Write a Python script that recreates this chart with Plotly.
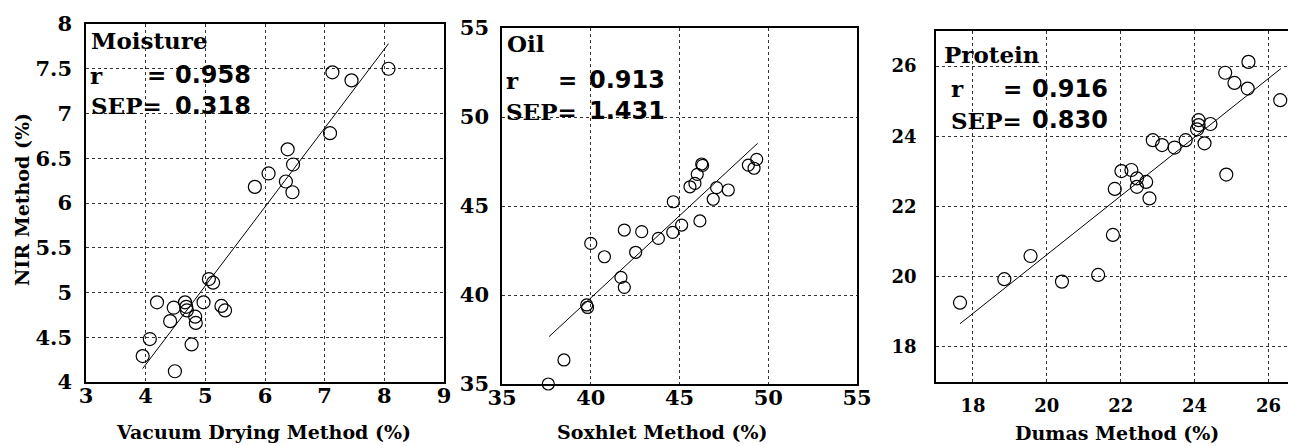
import plotly.graph_objects as go

# ---------------- data ----------------
moist_x = [8.07, 7.13, 7.45, 7.09, 6.38, 6.06, 5.83, 6.35, 6.47, 6.46,
           5.06, 5.13, 4.19, 4.47, 4.66, 4.68, 4.69, 4.97, 5.27, 5.33,
           4.41, 4.83, 4.84, 4.07, 3.95, 4.77, 4.49]
moist_y = [7.50, 7.46, 7.37, 6.78, 6.60, 6.33, 6.18, 6.24, 6.43, 6.12,
           5.15, 5.11, 4.89, 4.83, 4.89, 4.84, 4.80, 4.89, 4.85, 4.80,
           4.68, 4.73, 4.66, 4.48, 4.29, 4.42, 4.12]
moist_fit_x = [3.95, 8.07]
moist_fit_y = [4.15, 7.78]

oil_x = [37.61, 38.49, 39.77, 39.82, 40.00, 40.77, 41.70, 41.89, 41.89, 42.53,
         42.87, 43.81, 44.62, 44.65, 45.12, 45.59, 45.87, 46.00, 46.25, 46.30,
         46.15, 46.90, 47.09, 47.75, 48.88, 49.20, 49.35]
oil_y = [35.00, 36.35, 39.44, 39.30, 42.90, 42.15, 40.99, 40.43, 43.65, 42.40,
         43.56, 43.18, 43.52, 45.24, 43.93, 46.08, 46.27, 46.78, 47.36, 47.28,
         44.16, 45.38, 46.03, 45.90, 47.30, 47.12, 47.62]
oil_fit_x = [37.65, 49.40]
oil_fit_y = [37.66, 48.52]

prot_x = [17.65, 18.85, 19.56, 20.41, 21.39, 21.79, 21.84, 22.02, 22.29, 22.44,
          22.44, 22.69, 22.78, 22.87, 23.12, 23.46, 23.76, 24.11, 24.11, 24.07,
          24.43, 24.27, 24.86, 24.83, 25.08, 25.44, 25.46, 26.32]
prot_y = [19.26, 19.93, 20.59, 19.86, 20.05, 21.19, 22.50, 23.01, 23.04, 22.80,
          22.56, 22.70, 22.23, 23.89, 23.75, 23.68, 23.89, 24.46, 24.32, 24.20,
          24.35, 23.80, 22.91, 25.81, 25.52, 25.36, 26.12, 25.03]
prot_fit_x = [17.65, 26.34]
prot_fit_y = [18.66, 25.93]

moist_xticks = [3, 4, 5, 6, 7, 8, 9]
moist_yticks = [4, 4.5, 5, 5.5, 6, 6.5, 7, 7.5, 8]
moist_yticktext = ["4", "4.5", "5", "5.5", "6", "6.5", "7", "7.5", "8"]
oil_ticks = [35, 40, 45, 50, 55]
prot_ticks = [18, 20, 22, 24, 26]

panel_names = ["Moisture", "Oil", "Protein"]
r_values = ["0.958", "0.913", "0.916"]
sep_values = ["0.318", "1.431", "0.830"]
x_titles = ["Vacuum Drying Method (%)", "Soxhlet Method (%)", "Dumas Method (%)"]
y_title = "NIR Method (%)"

# ---------------- layout helpers ----------------
# the page body has an 8px margin, so the figure starts at (8, 8) in the window
OFF = 8
W, H = 1296 - OFF, 446 - OFF
def fx(p):
    return (p - OFF) / W
def fy(p):
    return 1 - (p - OFF) / H

SERIF = "DejaVu Serif"
SANS = "DejaVu Sans"

def bold(labels):
    return ["<b>" + str(v) + "</b>" for v in labels]

fig = go.Figure()

def add_panel(i, xs, ys, fxs, fys, msize):
    xa = "x" if i == 1 else f"x{i}"
    ya = "y" if i == 1 else f"y{i}"
    fig.add_trace(go.Scatter(x=xs, y=ys, mode="markers", xaxis=xa, yaxis=ya,
                             cliponaxis=False, showlegend=False,
                             marker=dict(symbol="circle-open", size=msize,
                                         color="black", line=dict(width=1.2, color="black"))))
    fig.add_trace(go.Scatter(x=fxs, y=fys, mode="lines", xaxis=xa, yaxis=ya,
                             showlegend=False, line=dict(color="black", width=1)))

add_panel(1, moist_x, moist_y, moist_fit_x, moist_fit_y, 13)
add_panel(2, oil_x, oil_y, oil_fit_x, oil_fit_y, 12)
add_panel(3, prot_x, prot_y, prot_fit_x, prot_fit_y, 13)

axis_common = dict(showline=True, mirror=True, linecolor="black", linewidth=1.5,
                   showgrid=True, gridcolor="#333333", griddash="dot", gridwidth=1,
                   zeroline=False, ticks="", automargin=False)

tf = dict(family=SERIF, size=21, color="black")
tf3 = dict(family=SERIF, size=18, color="black")

fig.update_layout(
    width=W, height=H,
    margin=dict(l=0, r=0, t=0, b=0, pad=0, autoexpand=False),
    paper_bgcolor="white", plot_bgcolor="white",
    xaxis=dict(axis_common, domain=[fx(86), fx(444)], range=[3, 9], anchor="y",
               tickvals=moist_xticks, ticktext=bold(moist_xticks),
               tickfont=tf, ticklabelstandoff=-6),
    yaxis=dict(axis_common, domain=[fy(382), fy(24)], range=[4, 8], anchor="x",
               tickvals=moist_yticks, ticktext=bold(moist_yticktext), tickfont=tf,
               ticklabelstandoff=8),
    xaxis2=dict(axis_common, domain=[fx(502), fx(857)], range=[35, 55], anchor="y2",
                tickvals=oil_ticks, ticktext=bold(oil_ticks), tickfont=tf,
                ticklabelstandoff=-6),
    yaxis2=dict(axis_common, domain=[fy(384), fy(28)], range=[35, 55], anchor="x2",
                tickvals=oil_ticks, ticktext=bold(oil_ticks), tickfont=tf,
                ticklabelstandoff=7),
    xaxis3=dict(axis_common, domain=[fx(936), fx(1295)], range=[17, 26.72], anchor="y3",
                tickvals=prot_ticks, ticktext=bold(prot_ticks), tickfont=tf3,
                ticklabelstandoff=7),
    yaxis3=dict(axis_common, domain=[fy(382), fy(31)], range=[17, 27], anchor="x3",
                tickvals=prot_ticks, ticktext=bold(prot_ticks), tickfont=tf3,
                ticklabelstandoff=14),
)

ann = []
def text(x, y, s, family, size, xanchor="left", angle=0):
    ann.append(dict(x=fx(x), y=fy(y), xref="paper", yref="paper", text=s,
                    showarrow=False, xanchor=xanchor, yanchor="middle", textangle=angle,
                    font=dict(family=family, size=size, color="black")))

# in-plot statistics text (pixel positions)
name_pos = [(89, 41), (505, 43), (942, 54)]
r_pos = [(88, 75), (504, 80), (949, 89)]
req_pos = [(145, 75), (556, 80), (1001, 89)]
sep_pos = [(89, 106), (504, 111), (949, 120)]
num_pos = [(173, 75, 106), (587, 80, 111), (1030, 89, 120)]
for k in range(3):
    text(name_pos[k][0], name_pos[k][1], "<b>" + panel_names[k] + "</b>", SERIF, 23)
    text(r_pos[k][0], r_pos[k][1], "<b>r</b>", SERIF, 23)
    text(req_pos[k][0], req_pos[k][1], "<b>=</b>", SANS, 23)
    text(sep_pos[k][0], sep_pos[k][1], "<b>SEP=</b>", SERIF, 23)
    text(num_pos[k][0], num_pos[k][1], "<b>" + r_values[k] + "</b>", SANS, 24)
    text(num_pos[k][0], num_pos[k][2], "<b>" + sep_values[k] + "</b>", SANS, 24)

# axis titles
title_pos = [(263, 432), (662, 432), (1117, 433)]
for k in range(3):
    text(title_pos[k][0], title_pos[k][1], "<b>" + x_titles[k] + "</b>", SERIF, 19, xanchor="center")
text(22, 200, "<b>" + y_title + "</b>", SERIF, 19, xanchor="center", angle=-90)

fig.update_layout(annotations=ann)
fig.write_html("out.html")
